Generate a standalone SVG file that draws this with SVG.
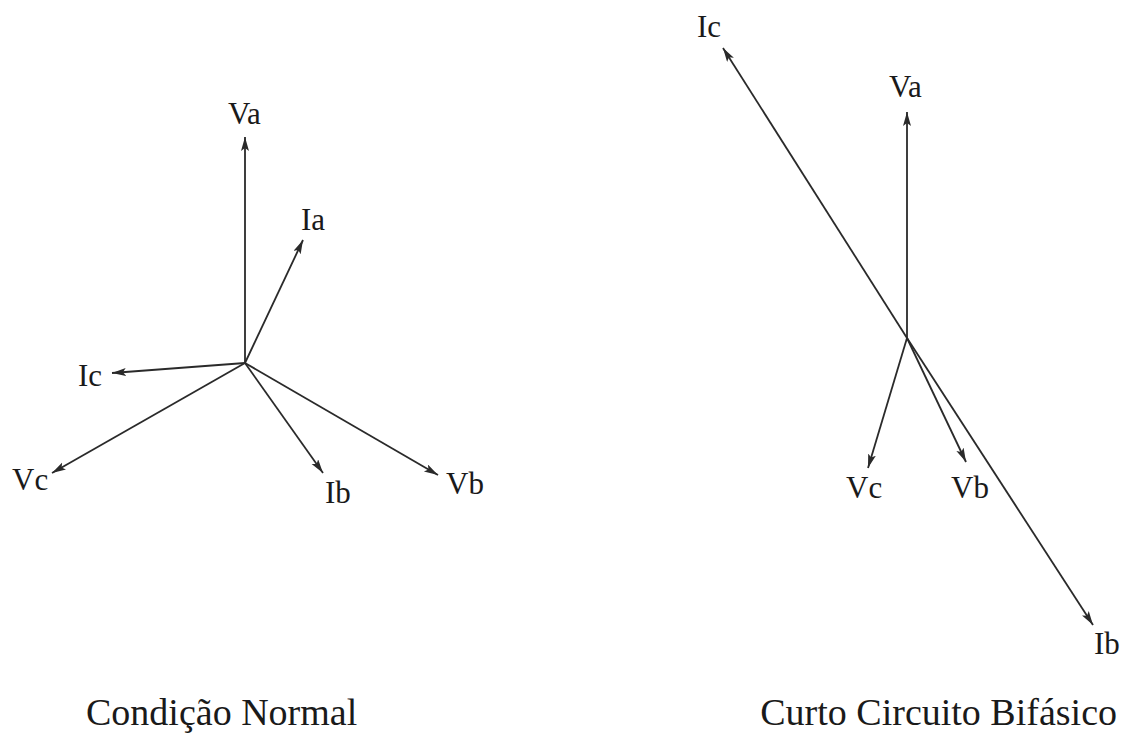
<svg xmlns="http://www.w3.org/2000/svg" width="1125" height="735" viewBox="0 0 1125 735">
<style>
.vec{stroke:#2a2a2a;stroke-width:1.8;fill:none;marker-end:url(#ah)}
.lbl{font-family:"Liberation Serif","Times New Roman",serif;font-size:31px;fill:#1a1a1a}
.ttl{font-family:"Liberation Serif","Times New Roman",serif;font-size:38px;fill:#1a1a1a}
</style>
<defs>
<marker id="ah" markerUnits="userSpaceOnUse" markerWidth="16" markerHeight="10" refX="14" refY="4" orient="auto">
<path d="M0,0 L14,4 L0,8 L3,4 z" fill="#2a2a2a"/>
</marker>
</defs>
<rect width="1125" height="735" fill="#ffffff"/>
<g id="connectors">
<line class="vec" x1="245" y1="363" x2="245" y2="137"/>
<line class="vec" x1="245" y1="363" x2="303" y2="240"/>
<line class="vec" x1="245" y1="363" x2="112" y2="373"/>
<line class="vec" x1="245" y1="363" x2="52" y2="473"/>
<line class="vec" x1="245" y1="363" x2="323" y2="473"/>
<line class="vec" x1="245" y1="363" x2="438" y2="475"/>
<line class="vec" x1="907" y1="338" x2="907" y2="112"/>
<line class="vec" x1="907" y1="338" x2="723" y2="48"/>
<line class="vec" x1="907" y1="338" x2="1093" y2="625"/>
<line class="vec" x1="907" y1="338" x2="868" y2="468"/>
<line class="vec" x1="907" y1="338" x2="966" y2="462"/>
</g>
<g id="left-Va"><text class="lbl" x="228" y="124">Va</text></g>
<g id="left-Ia"><text class="lbl" x="301" y="230">Ia</text></g>
<g id="left-Ic"><text class="lbl" x="78" y="386">Ic</text></g>
<g id="left-Vc"><text class="lbl" x="12" y="490">Vc</text></g>
<g id="left-Ib"><text class="lbl" x="325" y="503">Ib</text></g>
<g id="left-Vb"><text class="lbl" x="446" y="494">Vb</text></g>
<g id="right-Va"><text class="lbl" x="889" y="97">Va</text></g>
<g id="right-Ic"><text class="lbl" x="697" y="37">Ic</text></g>
<g id="right-Ib"><text class="lbl" x="1094" y="654">Ib</text></g>
<g id="right-Vc"><text class="lbl" x="846" y="498">Vc</text></g>
<g id="right-Vb"><text class="lbl" x="951" y="498">Vb</text></g>
<g id="title-left"><text class="ttl" x="86" y="725">Condição Normal</text></g>
<g id="title-right"><text class="ttl" x="1117" y="725" text-anchor="end">Curto Circuito Bifásico</text></g>
</svg>
